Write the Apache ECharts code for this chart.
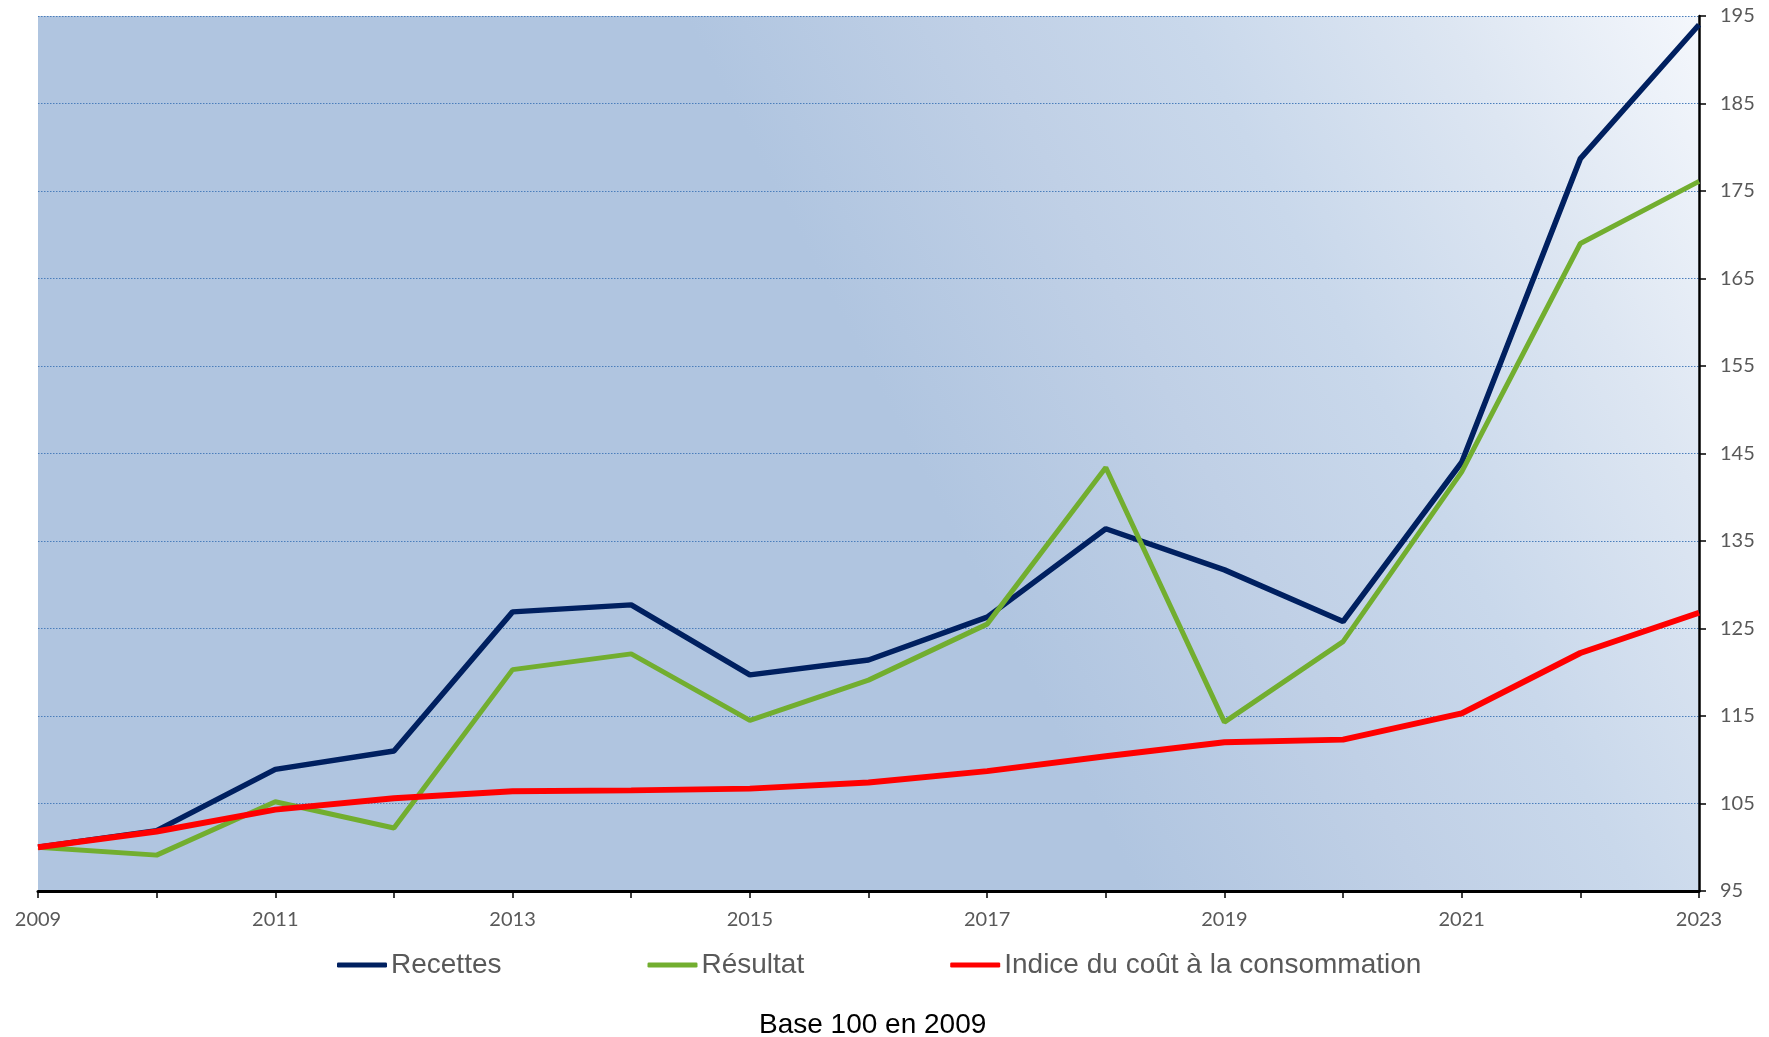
<!DOCTYPE html>
<html>
<head>
<meta charset="utf-8">
<title>Recettes, Résultat, Indice du coût à la consommation</title>
<script src="https://cdn.jsdelivr.net/npm/echarts@6/dist/echarts.min.js"></script>
<style>
  html, body { margin: 0; padding: 0; background: #fff; }
  #chart { width: 1769px; height: 1037px; }
</style>
</head>
<body>
<div id="chart"></div>
<script>
// données (base 100 en 2009)
const years = ['2009', '2010', '2011', '2012', '2013', '2014', '2015', '2016',
  '2017', '2018', '2019', '2020', '2021', '2022', '2023']
const recettes = [100, 101.9, 108.9, 111.0, 126.9, 127.7, 119.7, 121.4,
  126.3, 136.4, 131.7, 125.8, 144.0, 178.7, 194.0]
const resultat = [100, 99.1, 105.2, 102.2, 120.3, 122.1, 114.5, 119.1,
  125.5, 143.4, 114.3, 123.5, 142.9, 169.0, 176.1]
const indice = [100, 101.8, 104.3, 105.6, 106.4, 106.5, 106.7, 107.4,
  108.7, 110.4, 112.0, 112.3, 115.3, 122.2, 126.8]
const seriesNames = ['Recettes', 'Résultat', 'Indice du coût à la consommation']
const seriesColors = ['#002060', '#72ae2f', '#ff0000']

const chart = echarts.init(document.getElementById('chart'))

// fond dégradé : plus clair vers le coin haut-droit
const plotBg = new echarts.graphic.LinearGradient(812, 477, 1699, 16, [
  { offset: 0, color: '#b0c5e0' },
  { offset: 0.1, color: '#b0c5e0' },
  { offset: 0.354, color: '#c0d0e6' },
  { offset: 0.542, color: '#c9d8eb' },
  { offset: 0.774, color: '#dde6f2' },
  { offset: 1, color: '#f4f7fc' }
], true)

const labelStyle = {
  fontFamily: 'Lato, "Open Sans", sans-serif',
  fontSize: 20,
  color: '#595959'
}

const option = {
  animation: false,
  backgroundColor: '#fff',
  title: {
    text: 'Base 100 en 2009',
    left: 759,
    top: 1011,
    padding: 0,
    textStyle: {
      fontFamily: '"Liberation Sans", Arial, sans-serif',
      fontSize: 28,
      fontWeight: 'normal',
      color: '#000'
    }
  },
  legend: {
    data: seriesNames,
    left: 337,
    top: 950,
    padding: 0,
    itemGap: 146,
    itemWidth: 50,
    itemHeight: 5,
    icon: 'roundRect',
    textStyle: {
      fontFamily: '"Liberation Sans", Arial, sans-serif',
      fontSize: 28,
      lineHeight: 30,
      color: '#595959',
      padding: [0, 0, 0, -1]
    }
  },
  grid: {
    left: 38,
    right: 70,
    top: 16,
    bottom: 146,
    show: true,
    borderWidth: 0,
    backgroundColor: plotBg,
    outerBoundsMode: 'none'
  },
  xAxis: {
    type: 'category',
    data: years,
    boundaryGap: false,
    axisLine: { lineStyle: { color: '#000', width: 3 } },
    axisTick: { show: true, interval: 0, length: 7, lineStyle: { color: '#000', width: 1.5 } },
    axisLabel: { ...labelStyle, interval: 1, margin: 19 },
    splitLine: { show: false }
  },
  yAxis: {
    type: 'value',
    position: 'right',
    min: 95,
    max: 195,
    interval: 10,
    axisLine: { show: true, lineStyle: { color: '#000', width: 2.5 } },
    axisTick: { show: true, length: 7, lineStyle: { color: '#000', width: 1.5 } },
    axisLabel: { ...labelStyle, margin: 21 },
    splitLine: {
      show: true,
      lineStyle: { color: '#4a7ebb', width: 1.2, type: [1.5, 1.5] }
    }
  },
  series: [
    {
      name: seriesNames[0],
      type: 'line',
      data: recettes,
      symbol: 'none',
      color: seriesColors[0],
      lineStyle: { width: 5.5, color: seriesColors[0] }
    },
    {
      name: seriesNames[1],
      type: 'line',
      data: resultat,
      symbol: 'none',
      color: seriesColors[1],
      lineStyle: { width: 5, color: seriesColors[1] }
    },
    {
      name: seriesNames[2],
      type: 'line',
      data: indice,
      symbol: 'none',
      color: seriesColors[2],
      lineStyle: { width: 6, color: seriesColors[2] }
    }
  ]
}

chart.setOption(option)
</script>
</body>
</html>
